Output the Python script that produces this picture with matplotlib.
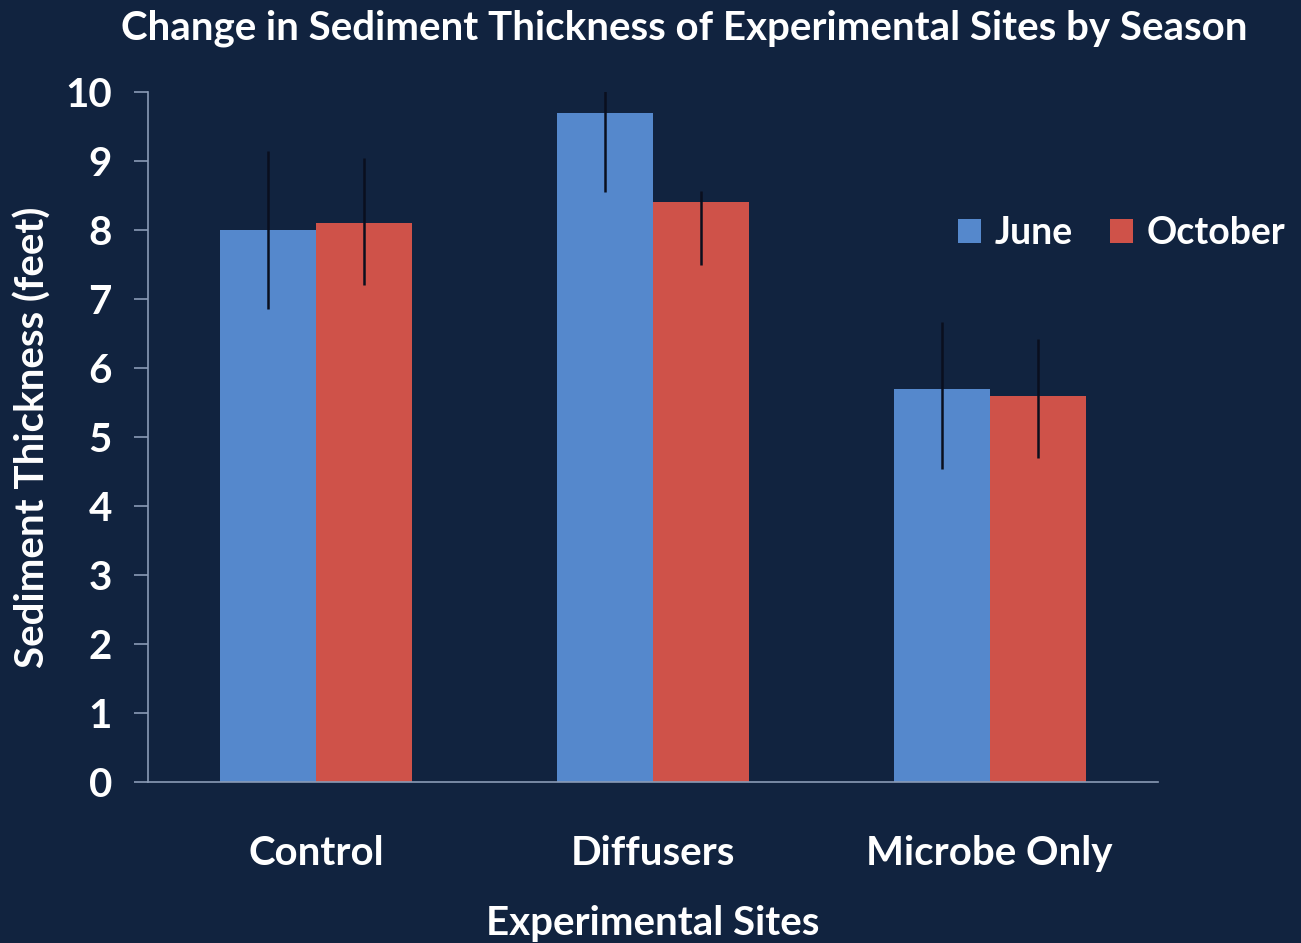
import matplotlib
matplotlib.use("Agg")
import matplotlib.pyplot as plt
import numpy as np

categories = ["Control", "Diffusers", "Microbe Only"]
series_names = ["June", "October"]
june = [8.0, 9.7, 5.7]
october = [8.1, 8.4, 5.6]
june_err_low = [1.15, 1.15, 1.16]
june_err_high = [1.14, 1.15, 0.96]
october_err_low = [0.90, 0.90, 0.90]
october_err_high = [0.94, 0.17, 0.82]
yticks = list(range(0, 11))

bg = "#11233f"
c_june = "#5588cc"
c_oct = "#cf5249"
spine_c = "#8a9bb5"

plt.rcParams['font.family'] = ['Lato', 'DejaVu Sans']
fig = plt.figure(figsize=(13.01, 9.43), dpi=100, facecolor=bg)
ax = fig.add_axes([0.1138, 0.1707, 0.7762, 0.7317], facecolor=bg)

x = np.arange(len(categories))
w = 0.285
ax.bar(x - w/2, june, w, color=c_june, label=series_names[0], zorder=2)
ax.bar(x + w/2, october, w, color=c_oct, label=series_names[1], zorder=2)
ax.errorbar(x - w/2, june, yerr=[june_err_low, june_err_high], fmt='none', ecolor='#0a0f1e',
            elinewidth=1.8, capsize=0, zorder=3)
ax.errorbar(x + w/2, october, yerr=[october_err_low, october_err_high], fmt='none', ecolor='#0a0f1e',
            elinewidth=1.8, capsize=0, zorder=3)

ax.set_xlim(-0.5, 2.5)
ax.set_ylim(0, 10)
ax.set_yticks(yticks)
ax.set_xticks(x)
ax.set_xticklabels(categories)
for s in ['top', 'right']:
    ax.spines[s].set_visible(False)
ax.spines['left'].set_color(spine_c)
ax.spines['bottom'].set_color(spine_c)
ax.spines['left'].set_linewidth(1.2)
ax.spines['bottom'].set_linewidth(1.2)
ax.tick_params(axis='y', colors=spine_c, length=10, width=1.2, direction='out', pad=16)
ax.tick_params(axis='x', length=0, pad=38)
for lab in ax.get_yticklabels() + ax.get_xticklabels():
    lab.set_color('white')
    lab.set_fontweight('bold')
    lab.set_fontsize(29)

ax.set_xlabel("Experimental Sites", color='white', fontsize=29, fontweight='bold', labelpad=24)
ax.set_ylabel("Sediment Thickness (feet)", color='white', fontsize=29, fontweight='bold', labelpad=10)
fig.text(0.526, 0.970, "Change in Sediment Thickness of Experimental Sites by Season", color='white',
         fontsize=29, fontweight='bold', ha='center', va='center')

leg = ax.legend(loc='center left', bbox_to_anchor=(0.802, 0.795), ncol=2, frameon=False,
                fontsize=27, handlelength=0.62, handleheight=0.62, handletextpad=0.35,
                columnspacing=1.0, borderaxespad=0, borderpad=0)
for t in leg.get_texts():
    t.set_color('white')
    t.set_fontweight('bold')

fig.savefig("out.png", dpi=100, facecolor=bg)
